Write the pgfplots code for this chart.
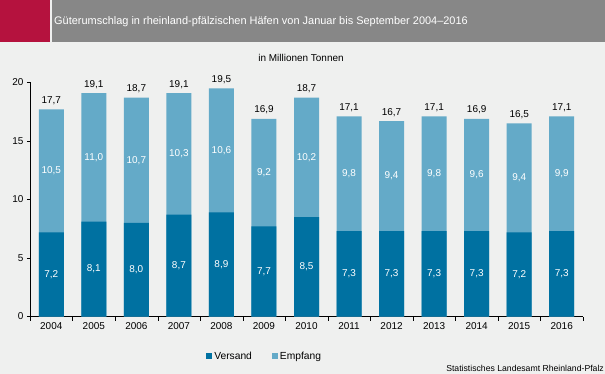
\documentclass[border=0pt]{standalone}
\usepackage{pgfplots}
\pgfplotsset{compat=1.18}
\usepackage{pgfplotstable}
\usepackage{fontspec}
\setmainfont{Liberation Sans}
\definecolor{bgc}{HTML}{EFF0EF}
\definecolor{crim}{HTML}{B5123E}
\definecolor{hgray}{HTML}{878787}
\definecolor{dblue}{HTML}{0071A1}
\definecolor{lblue}{HTML}{64AAC8}
\pgfplotstableread{
x v e t
0 7.2 10.5 17.7
1 8.1 11.0 19.1
2 8.0 10.7 18.7
3 8.7 10.3 19.1
4 8.9 10.6 19.5
5 7.7 9.2 16.9
6 8.5 10.2 18.7
7 7.3 9.8 17.1
8 7.3 9.4 16.7
9 7.3 9.8 17.1
10 7.3 9.6 16.9
11 7.2 9.4 16.5
12 7.3 9.9 17.1
}\data
\begin{document}
\begin{tikzpicture}
\useasboundingbox (0,0) rectangle (605bp,374bp);
\fill[bgc] (0,0) rectangle (605bp,374bp);
\fill[crim] (0,331.5bp) rectangle (50bp,374bp);
\fill[hgray] (52bp,331.5bp) rectangle (605bp,374bp);
\node[anchor=base west, inner sep=0, text=white, font=\fontsize{11}{13}\selectfont] at (54bp,349bp) {Güterumschlag in rheinland-pfälzischen Häfen von Januar bis September 2004–2016};
\node[inner sep=0, font=\fontsize{10}{12}\selectfont] at (301bp,316bp) {in Millionen Tonnen};
\node[anchor=east, inner sep=0, font=\fontsize{8.7}{10}\selectfont] at (604bp,6bp) {Statistisches Landesamt Rheinland-Pfalz};
\begin{axis}[
  at={(30bp,57.5bp)}, anchor=south west,
  scale only axis, width=553bp, height=234bp,
  ybar, bar width=25bp, bar shift=0pt,
  xmin=-0.5, xmax=12.5, ymin=0, ymax=20,
  axis lines=left, axis line style={-, black},
  xtick={0,...,12},
  xticklabels={2004,2005,2006,2007,2008,2009,2010,2011,2012,2013,2014,2015,2016},
  minor xtick={-0.5,0.5,...,12.5},
  ytick={0,5,10,15,20},
  tick align=outside, major tick length=3bp, minor tick length=4bp,
  x tick style={draw=none}, minor x tick style={draw=black},
  y tick style={black},
  tick label style={font=\fontsize{10}{12}\selectfont},
  /pgf/number format/assume math mode=true,
  /pgf/number format/use comma,
  /pgf/number format/1000 sep={},
  legend style={at={(0.313,-0.169)}, anchor=west, draw=none, fill=none, legend columns=2,
    font=\fontsize{10.3}{12}\selectfont, /tikz/every even column/.append style={column sep=18bp}},
  legend image code/.code={\fill[#1, draw=none] (0bp,-3bp) rectangle (6bp,3bp);},
  clip=false,
]
\addplot[fill=lblue, draw=none, forget plot] table[x=x, y=t] \data;
\addplot[fill=dblue, draw=none, forget plot] table[x=x, y=v] \data;
\addplot[draw=none, fill=none, forget plot, point meta=explicit, nodes near coords,
  nodes near coords style={anchor=center, text=white, font=\fontsize{10}{12}\selectfont,
  /pgf/number format/.cd, fixed, fixed zerofill, precision=1, use comma}]
  table[x=x, y expr=\thisrow{v}/2, meta=v] \data;
\addplot[draw=none, fill=none, forget plot, point meta=explicit, nodes near coords,
  nodes near coords style={anchor=center, text=white, font=\fontsize{10}{12}\selectfont,
  /pgf/number format/.cd, fixed, fixed zerofill, precision=1, use comma}]
  table[x=x, y expr=(\thisrow{v}+\thisrow{t})/2, meta=e] \data;
\addplot[draw=none, fill=none, forget plot, point meta=explicit, nodes near coords,
  nodes near coords style={anchor=south, text=black, yshift=1bp, font=\fontsize{10}{12}\selectfont,
  /pgf/number format/.cd, fixed, fixed zerofill, precision=1, use comma}]
  table[x=x, y=t, meta=t] \data;
\addlegendimage{fill=dblue, draw=none}
\addlegendentry{Versand}
\addlegendimage{fill=lblue, draw=none}
\addlegendentry{Empfang}
\end{axis}
\end{tikzpicture}
\end{document}
